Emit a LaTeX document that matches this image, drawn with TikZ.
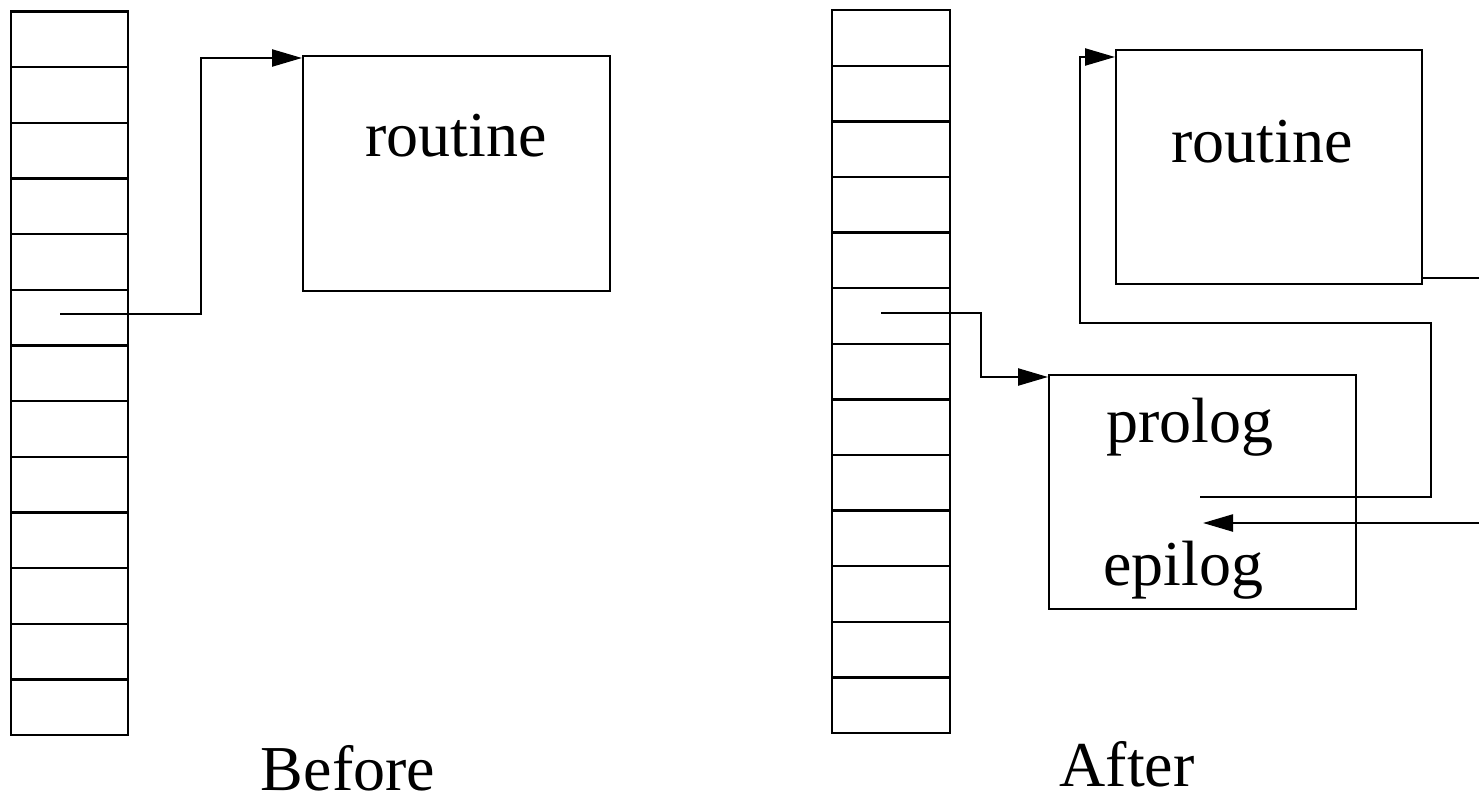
\documentclass[tikz,border=0pt]{standalone}
\usepackage{fontspec}
\setmainfont{Liberation Serif}
\usetikzlibrary{arrows.meta}
\begin{document}
\begin{tikzpicture}[x=1pt,y=-1pt,line width=2.3pt,
  cell/.style={draw,rectangle,minimum width=117pt,minimum height=55.7pt,inner sep=0pt,anchor=north west},
  box/.style={draw,rectangle,inner sep=0pt,anchor=north west},
  lbl/.style={font=\fontsize{64}{70}\selectfont,inner sep=0pt,anchor=base},
  arr/.style={-{Triangle[length=30pt,width=17pt]}}]
\useasboundingbox (0,0) rectangle (1479,794);
% Before stack
\foreach \i in {1,...,13} {
  \node[cell] (L\i) at (9.5,{10.5+(\i-1)*55.65}) {};
}
% After stack
\foreach \i in {1,...,13} {
  \node[cell,minimum width=118pt] (R\i) at (830.5,{9+(\i-1)*55.6}) {};
}
% Before routine
\node[box,minimum width=307pt,minimum height=235pt] (rtA) at (302,55) {};
\node[lbl] (rtAt) at (456,157) {routine};
\coordinate (sA) at (60,314);
\draw[arr] (sA) -- (201,314) |- (rtA.north west|-0,58);
% After routine
\node[box,minimum width=306pt,minimum height=234pt] (rtB) at (1115,49) {};
\node[lbl] (rtBt) at (1262,163) {routine};
% prolog/epilog
\node[box,minimum width=307pt,minimum height=234pt] (pe) at (1048,374) {};
\node[lbl] (pro) at (1190,442) {prolog};
\node[lbl] (epi) at (1183,585) {epilog};
\coordinate (sB) at (881,313);
\draw[arr] (sB) -- (981,313) |- (pe.north west|-0,377);
\coordinate (lp) at (1200,497);
\draw[arr] (lp) -- (1431,497) |- (1080,323) |- (rtB.north west|-0,57);
\coordinate (outA) at (1480,278);
\draw (rtB.east|-0,278) -- (outA);
\coordinate (inA) at (1480,523);
\coordinate (inT) at (1203,523);
\draw[arr] (inA) -- (inT);
\node[lbl,text depth=0pt] (bef) at (348,790) {Before};
\node[lbl,text depth=0pt] (aft) at (1127,786) {After};
\end{tikzpicture}
\end{document}
